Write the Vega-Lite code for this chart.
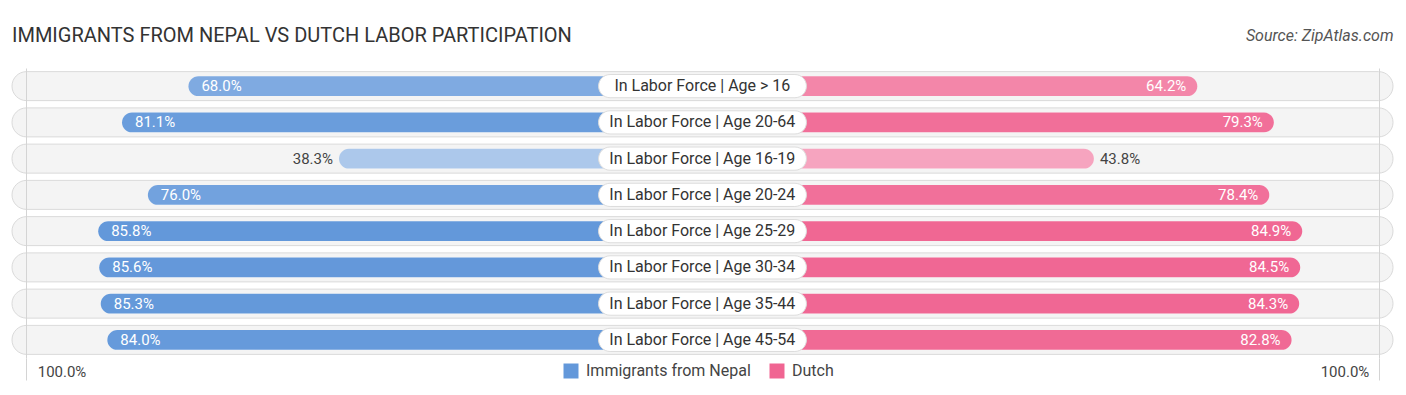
{
  "$schema": "https://vega.github.io/schema/vega-lite/v6.json",
  "width": 1381,
  "height": 290,
  "autosize": {"type": "none"},
  "padding": {"left": 12, "right": 13, "top": 68, "bottom": 37},
  "background": "#ffffff",
  "title": {
    "text": "IMMIGRANTS FROM NEPAL VS DUTCH LABOR PARTICIPATION",
    "anchor": "start",
    "frame": "group",
    "fontSize": 20,
    "fontWeight": "normal",
    "color": "#333333",
    "font": "Roboto",
    "offset": -19
  },
  "config": {
    "view": {"stroke": null},
    "font": "Roboto",
    "text": {"font": "Roboto"}
  },
  "data": {
    "values": [
      {"label": "In Labor Force | Age > 16", "nepal": 0.680, "dutch": 0.642},
      {"label": "In Labor Force | Age 20-64", "nepal": 0.811, "dutch": 0.793},
      {"label": "In Labor Force | Age 16-19", "nepal": 0.383, "dutch": 0.438},
      {"label": "In Labor Force | Age 20-24", "nepal": 0.760, "dutch": 0.784},
      {"label": "In Labor Force | Age 25-29", "nepal": 0.858, "dutch": 0.849},
      {"label": "In Labor Force | Age 30-34", "nepal": 0.856, "dutch": 0.845},
      {"label": "In Labor Force | Age 35-44", "nepal": 0.853, "dutch": 0.843},
      {"label": "In Labor Force | Age 45-54", "nepal": 0.840, "dutch": 0.828}
    ]
  },
  "encoding": {
    "y": {"field": "label", "type": "nominal", "sort": null, "scale": {"paddingInner": 0, "paddingOuter": 0}, "axis": null}
  },
  "layer": [
    {
      "mark": {"type": "bar", "height": {"band": 0.8}, "cornerRadius": 14.5, "fill": "#f4f4f4", "stroke": "#dadada", "strokeWidth": 1},
      "encoding": {
        "x": {"datum": -1.696, "scale": {"domain": [-1.696, 1.028], "nice": false, "zero": false},
          "axis": {"orient": "top", "labels": false, "ticks": false, "domain": false, "grid": false,
            "title": "Source: ZipAtlas.com", "titleAnchor": "end", "titleFontStyle": "italic", "titleFontWeight": "normal",
            "titleFontSize": 16, "titleColor": "#555555", "titleFont": "Roboto", "titlePadding": 28, "titleBaseline": "alphabetic"}},
        "x2": {"datum": 1.028}
      }
    },
    {
      "mark": {"type": "bar", "height": {"band": 0.55}, "cornerRadius": 10, "fill": "#ffffff"},
      "encoding": {
        "x": {"field": "nepal", "type": "quantitative", "scale": {"domain": [-1.696, 1.028], "nice": false, "zero": false, "reverse": true}, "axis": null},
        "x2": {"datum": -0.3343}
      }
    },
    {
      "mark": {"type": "bar", "height": {"band": 0.55}, "cornerRadius": 10},
      "encoding": {
        "x": {"field": "nepal", "type": "quantitative", "scale": {"domain": [-1.696, 1.028], "nice": false, "zero": false, "reverse": true},
          "axis": {"orient": "bottom", "values": [1], "format": ".1%", "grid": true, "gridColor": "#d4d4d4", "gridWidth": 1,
            "ticks": true, "tickSize": 22, "tickColor": "#d4d4d4", "domain": false, "title": null, "zindex": 1,
            "labelAlign": "left", "labelOffset": 11, "labelPadding": -16, "labelBaseline": "top", "labelFontSize": 15, "labelColor": "#444444", "labelFont": "Roboto"}},
        "x2": {"datum": -0.3343},
        "color": {"datum": "Immigrants from Nepal", "type": "nominal",
          "scale": {"domain": ["Immigrants from Nepal", "Dutch"], "range": ["#6398da", "#f06592"]},
          "legend": {"orient": "none", "legendX": 551, "legendY": 295, "direction": "horizontal", "title": null,
            "symbolType": "square", "symbolSize": 225, "symbolStrokeWidth": 0, "labelFontSize": 16, "labelColor": "#444444",
            "labelFont": "Roboto", "labelLimit": 400, "columnPadding": 18, "labelOffset": 7}},
        "opacity": {"field": "nepal", "type": "quantitative", "scale": {"domain": [0.38, 0.86], "range": [0.53, 1], "clamp": true}, "legend": null}
      }
    },
    {
      "mark": {"type": "bar", "height": {"band": 0.55}, "cornerRadius": 10, "fill": "#ffffff"},
      "encoding": {
        "x": {"field": "dutch", "type": "quantitative", "scale": {"domain": [-1.696, 1.028], "nice": false, "zero": false}, "axis": null},
        "x2": {"datum": -0.3343}
      }
    },
    {
      "mark": {"type": "bar", "height": {"band": 0.55}, "cornerRadius": 10},
      "encoding": {
        "x": {"field": "dutch", "type": "quantitative", "scale": {"domain": [-1.696, 1.028], "nice": false, "zero": false},
          "axis": {"orient": "bottom", "values": [1], "format": ".1%", "grid": true, "gridColor": "#d4d4d4", "gridWidth": 1,
            "ticks": true, "tickSize": 22, "tickColor": "#d4d4d4", "domain": false, "title": null, "zindex": 1,
            "labelAlign": "right", "labelOffset": -10, "labelPadding": -16, "labelBaseline": "top", "labelFontSize": 15, "labelColor": "#444444", "labelFont": "Roboto"}},
        "x2": {"datum": -0.3343},
        "color": {"datum": "Dutch", "type": "nominal"},
        "opacity": {"field": "dutch", "type": "quantitative", "scale": {"domain": [0.38, 0.86], "range": [0.53, 1], "clamp": true}, "legend": null}
      }
    },
    {
      "mark": {"type": "bar", "height": {"band": 0.64}, "cornerRadius": 11.5, "fill": "#ffffff", "stroke": "#dddddd", "strokeWidth": 1},
      "encoding": {
        "x": {"datum": -0.539, "scale": {"domain": [-1.696, 1.028], "nice": false, "zero": false}, "axis": null},
        "x2": {"datum": -0.129}
      }
    },
    {
      "mark": {"type": "text", "fontSize": 16, "color": "#333333", "align": "center", "baseline": "middle"},
      "encoding": {
        "x": {"datum": -0.3343, "scale": {"domain": [-1.696, 1.028], "nice": false, "zero": false}, "axis": null},
        "text": {"field": "label"}
      }
    },
    {
      "transform": [{"filter": "datum.nepal >= 0.5"}],
      "mark": {"type": "text", "fontSize": 15, "color": "#ffffff", "align": "left", "baseline": "middle", "dx": 13},
      "encoding": {
        "x": {"field": "nepal", "type": "quantitative", "scale": {"domain": [-1.696, 1.028], "nice": false, "zero": false, "reverse": true}, "axis": null},
        "text": {"field": "nepal", "type": "quantitative", "format": ".1%"}
      }
    },
    {
      "transform": [{"filter": "datum.nepal < 0.5"}],
      "mark": {"type": "text", "fontSize": 15, "color": "#444444", "align": "right", "baseline": "middle", "dx": -6},
      "encoding": {
        "x": {"field": "nepal", "type": "quantitative", "scale": {"domain": [-1.696, 1.028], "nice": false, "zero": false, "reverse": true}, "axis": null},
        "text": {"field": "nepal", "type": "quantitative", "format": ".1%"}
      }
    },
    {
      "transform": [{"filter": "datum.dutch >= 0.5"}],
      "mark": {"type": "text", "fontSize": 15, "color": "#ffffff", "align": "right", "baseline": "middle", "dx": -11},
      "encoding": {
        "x": {"field": "dutch", "type": "quantitative", "scale": {"domain": [-1.696, 1.028], "nice": false, "zero": false}, "axis": null},
        "text": {"field": "dutch", "type": "quantitative", "format": ".1%"}
      }
    },
    {
      "transform": [{"filter": "datum.dutch < 0.5"}],
      "mark": {"type": "text", "fontSize": 15, "color": "#444444", "align": "left", "baseline": "middle", "dx": 6},
      "encoding": {
        "x": {"field": "dutch", "type": "quantitative", "scale": {"domain": [-1.696, 1.028], "nice": false, "zero": false}, "axis": null},
        "text": {"field": "dutch", "type": "quantitative", "format": ".1%"}
      }
    }
  ],
  "resolve": {"scale": {"x": "independent"}, "axis": {"x": "independent"}}
}
